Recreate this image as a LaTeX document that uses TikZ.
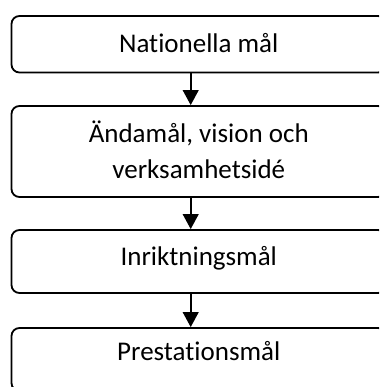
\documentclass[tikz,border=0pt]{standalone}
\usepackage{fontspec}
\setmainfont{Carlito}[Ligatures={NoCommon}]
\usetikzlibrary{arrows.meta}
\begin{document}
\begin{tikzpicture}[x=1pt,y=-1pt,
  box/.style={draw=black, line width=1.8pt, rounded corners=8pt, minimum width=374.5pt, inner sep=0pt, fill=none},
  lbl/.style={anchor=base, inner sep=0pt, font=\fontsize{27}{35.5}\selectfont, align=center},
  arr/.style={line width=1.9pt, -{Triangle[width=15.7pt,length=15pt]}}]
\useasboundingbox (0,0) rectangle (379,387);
\clip (0,0) rectangle (379,387);
\node[box, minimum height=56.5pt] (b1) at (198.75,44.25) {};
\node[box, minimum height=91pt] (b2) at (198.75,151.5) {};
\node[box, minimum height=63pt] (b3) at (198.75,261.5) {};
\node[box, minimum height=63pt] (b4) at (198.75,359.5) {};
\node[lbl] (t1) at (198.75,52.7) {Nationella mål};
\node[lbl] (t2) at (198.75,178.5) {Ändamål, vision och\\verksamhetsidé};
\node[lbl] (t3) at (198.75,265.7) {Inriktningsmål};
\node[lbl] (t4) at (198.75,360.7) {Prestationsmål};
\coordinate (ax) at (190.7,0);
\draw[arr] (b1.south -| ax) -- (b2.north -| ax);
\draw[arr] (b2.south -| ax) -- (b3.north -| ax);
\draw[arr] (b3.south -| ax) -- (b4.north -| ax);
\end{tikzpicture}
\end{document}
